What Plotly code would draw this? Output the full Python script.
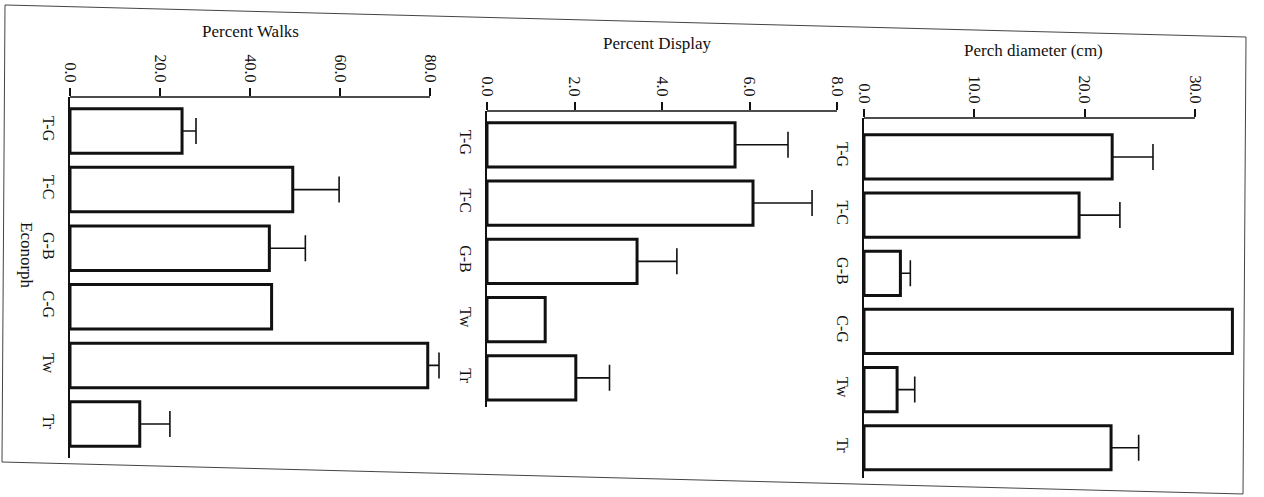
import plotly.graph_objects as go

# ---------------- data ----------------
walk_cats = ["T-G", "T-C", "G-B", "C-G", "Tw", "Tr"]
walk_vals = [24.9, 49.5, 44.3, 44.8, 79.5, 15.5]
walk_err = [3.1, 10.3, 8.0, 0.0, 2.5, 6.7]

disp_cats = ["T-G", "T-C", "G-B", "Tw", "Tr"]
disp_vals = [5.67, 6.08, 3.43, 1.33, 2.03]
disp_err = [1.21, 1.35, 0.91, 0.0, 0.77]

perch_cats = ["T-G", "T-C", "G-B", "C-G", "Tw", "Tr"]
perch_vals = [22.5, 19.5, 3.3, 33.4, 3.0, 22.4]
perch_err = [3.7, 3.7, 0.9, 0.0, 1.6, 2.5]

walk_ticks = [0, 20, 40, 60, 80]
disp_ticks = [0, 2, 4, 6, 8]
perch_ticks = [0, 10, 20, 30]

titles = ["Percent Walks", "Percent Display", "Perch diameter (cm)"]
y_title = "Econorph"

# ---------------- layout helpers ----------------
W, H = 1264, 497
def px(x):
    return x / W
def py(y):
    return 1 - y / H

FONT = "Liberation Serif"
fig = go.Figure()

panels = [
    dict(cats=walk_cats, vals=walk_vals, err=walk_err, ticks=walk_ticks,
         x0=70, ppu=4.5, xmax=84, amax=80, top=97, bottom=458,
         yr=[5.58, -0.58]),
    dict(cats=disp_cats, vals=disp_vals, err=disp_err, ticks=disp_ticks,
         x0=487, ppu=43.75, xmax=8.3, amax=8, top=111, bottom=407,
         yr=[4.5, -0.58]),
    dict(cats=perch_cats, vals=perch_vals, err=perch_err, ticks=perch_ticks,
         x0=864, ppu=11.03, xmax=34.5, amax=30, top=118, bottom=478,
         yr=[5.52, -0.67]),
]

shapes = []
for i, p in enumerate(panels, start=1):
    xa = "x" if i == 1 else f"x{i}"
    ya = "y" if i == 1 else f"y{i}"
    fig.add_trace(go.Bar(
        x=p["vals"], y=p["cats"], orientation="h",
        xaxis=xa, yaxis=ya, width=0.76,
        marker=dict(color="white", line=dict(color="#111111", width=3)),
        error_x=dict(type="data", array=p["err"],
                     arrayminus=[0] * len(p["err"]), symmetric=False,
                     color="#111111", thickness=1.6, width=13),
        showlegend=False, hoverinfo="x+y",
    ))
    ticktext = [f"{t:.1f}" for t in p["ticks"]]
    fig.update_layout(**{
        ("xaxis" if i == 1 else f"xaxis{i}"): dict(
            domain=[px(p["x0"]), px(p["x0"] + p["xmax"] * p["ppu"])],
            range=[0, p["xmax"]], side="top", anchor=ya,
            tickvals=p["ticks"], ticktext=ticktext, tickangle=90,
            ticks="outside", ticklen=8, tickwidth=1.5, tickcolor="#111111",
            showline=False, showgrid=False, zeroline=False,
            tickfont=dict(family=FONT, size=16, color="#111111"),
            fixedrange=True, automargin=False,
        ),
        ("yaxis" if i == 1 else f"yaxis{i}"): dict(
            domain=[py(p["bottom"]), py(p["top"])],
            type="category", range=p["yr"], anchor=xa,
            showline=True, linewidth=2, linecolor="#111111",
            ticks="", tickangle=90, ticklabelstandoff=6,
            showgrid=False, zeroline=False,
            tickfont=dict(family=FONT, size=16, color="#111111"),
            fixedrange=True, automargin=False,
        ),
    })
    # value axis line, only over the labelled range
    shapes.append(dict(type="line", xref=xa, yref="paper",
                       x0=0, x1=p["amax"], y0=py(p["top"]), y1=py(p["top"]),
                       line=dict(color="#111111", width=1.6)))

# page frame (scanned, slightly skewed)
frame = [(5, 5), (1246, 37), (1243, 494), (2, 462)]
path = "M " + " L ".join(f"{px(x):.5f},{py(y):.5f}" for x, y in frame) + " Z"
shapes.append(dict(type="path", xref="paper", yref="paper", path=path,
                   line=dict(color="#444444", width=1)))

annotations = []
title_pos = [(250, 32), (657, 43), (1033, 50)]
for t, (x, y) in zip(titles, title_pos):
    annotations.append(dict(text=t, x=px(x), y=py(y), xref="paper", yref="paper",
                            showarrow=False, xanchor="center", yanchor="middle",
                            font=dict(family=FONT, size=17, color="#111111")))
annotations.append(dict(text=y_title, x=px(27), y=py(255), xref="paper", yref="paper",
                        showarrow=False, textangle=90, xanchor="center", yanchor="middle",
                        font=dict(family=FONT, size=17, color="#111111")))

fig.update_layout(
    width=W, height=H, margin=dict(l=0, r=0, t=0, b=0, autoexpand=False),
    paper_bgcolor="white", plot_bgcolor="white",
    shapes=shapes, annotations=annotations, bargap=0.24,
)

fig.write_html("out.html",
               config={"displayModeBar": False},
               post_script="document.body.style.margin='0';document.body.style.overflow='hidden';")
